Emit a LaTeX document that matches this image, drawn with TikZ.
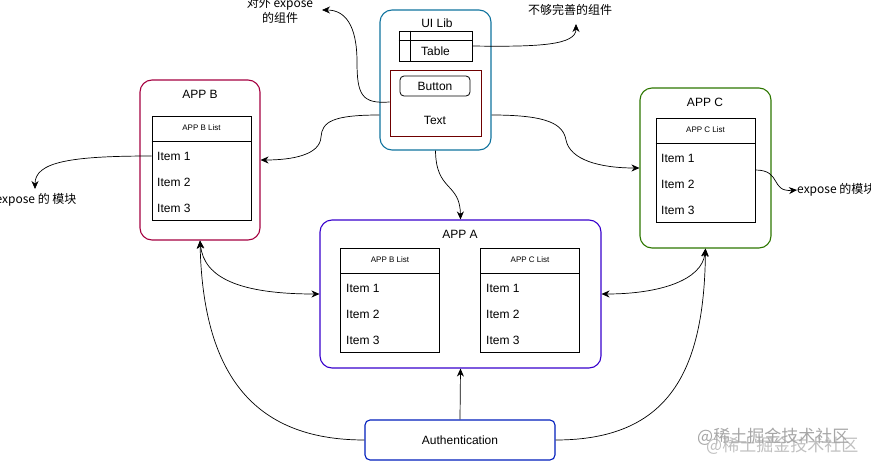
\documentclass[tikz,border=0pt]{standalone}
\usepackage{fontspec}
\setmainfont{Liberation Sans}
\newfontfamily\cjk{Noto Sans CJK SC}
\usetikzlibrary{arrows.meta}
\definecolor{uiblue}{HTML}{10739E}
\definecolor{bmag}{HTML}{A50040}
\definecolor{cgreen}{HTML}{2D7600}
\definecolor{apurple}{HTML}{3700CC}
\definecolor{authblue}{HTML}{001DBC}
\definecolor{maroon}{HTML}{6F0000}
\begin{document}
\begin{tikzpicture}[x=1pt,y=-1pt,
  font=\fontsize{12}{14}\selectfont,
  box/.style={draw, rounded corners=12pt, line width=1.1pt, inner sep=0pt},
  lst/.style={draw, line width=0.8pt, minimum width=99pt, minimum height=104pt, inner sep=0pt},
  hdr/.style={font=\fontsize{8}{9}\selectfont, inner sep=0pt},
  itm/.style={anchor=west, inner sep=0pt},
  lbl/.style={inner sep=0pt},
  arr/.style={-{Stealth[length=8pt,width=7pt]}, line width=0.7pt},
  darr/.style={{Stealth[length=8pt,width=7pt]}-{Stealth[length=8pt,width=7pt]}, line width=0.7pt}]
\useasboundingbox (0,0) rectangle (871,461);

% ---------- UI Lib ----------
\node[box, draw=uiblue, minimum width=111pt, minimum height=140pt] (ui) at (435.5,80) {};
\node[lbl] (uititle) at (437,23) {UI Lib};
\node[draw, line width=0.8pt, minimum width=73pt, minimum height=30pt, inner sep=0pt] (tbl) at (435.5,46) {};
\draw[line width=0.8pt] ([yshift=-10pt]tbl.north west) -- ([yshift=-10pt]tbl.north east);
\draw[line width=0.8pt] ([xshift=12pt]tbl.north west) -- ([xshift=12pt]tbl.south west);
\node[lbl] (tbltxt) at (435.5,51) {Table};
\node[draw=maroon, line width=0.9pt, minimum width=91pt, minimum height=66pt, inner sep=0pt] (cont) at (435.5,103) {};
\node[draw, rounded corners=4pt, line width=0.8pt, minimum width=70pt, minimum height=20pt, inner sep=0pt] (btn) at (435,86) {Button};
\node[lbl] (txt) at (435,120) {Text};

% labels near UI Lib
\node[lbl, align=center, font=\cjk\fontsize{12}{15}\selectfont] (expL) at (280,10) {对外 expose\\的组件};
\coordinate (expTip) at (322,10);
\node[lbl, font=\cjk\fontsize{12}{14}\selectfont] (weak) at (570,10) {不够完善的组件};
\coordinate (weakTip) at (576,24);

\draw[arr] ([yshift=1pt]cont.west) .. controls (362,104) and (357,95) .. (357,62) .. controls (357,25) and (345,10) .. (expTip);
\draw[arr] (tbl.east) .. controls (540,47) and (576,45) .. (weakTip);

% ---------- APP B ----------
\node[box, draw=bmag, minimum width=120pt, minimum height=160pt] (appB) at (200,160) {};
\node[lbl] (appBt) at (200,94) {APP B};
\node[lst] (listB) at (201.5,168.5) {};
\draw[line width=0.8pt] ([yshift=-25.5pt]listB.north west) -- ([yshift=-25.5pt]listB.north east);
\node[hdr] (listBh) at (201.5,128) {APP B List};
\node[itm] (b1) at (157,156) {Item 1};
\node[itm] (b2) at (157,182) {Item 2};
\node[itm] (b3) at (157,208) {Item 3};
\node[lbl, font=\cjk\fontsize{12}{14}\selectfont] (expB) at (36,200) {expose 的 模块};
\coordinate (expBTip) at (35,189);
\draw[arr] (b1.west -| listB.west) .. controls (70,156) and (35,162) .. (expBTip);

% ---------- APP C ----------
\node[box, draw=cgreen, minimum width=131pt, minimum height=160pt] (appC) at (705.5,168) {};
\node[lbl] (appCt) at (705,102) {APP C};
\node[lst] (listC) at (705.5,170) {};
\draw[line width=0.8pt] ([yshift=-26pt]listC.north west) -- ([yshift=-26pt]listC.north east);
\node[hdr] (listCh) at (705.5,130) {APP C List};
\node[itm] (c1) at (661,158) {Item 1};
\node[itm] (c2) at (661,184) {Item 2};
\node[itm] (c3) at (661,210) {Item 3};
\node[lbl, anchor=west, font=\cjk\fontsize{12}{14}\selectfont] (expC) at (797,190) {expose 的模块};
\draw[arr] (listC.east) .. controls (782,170) and (770,192) .. (expC.west);

% ---------- APP A ----------
\node[box, draw=apurple, minimum width=281pt, minimum height=148pt] (appA) at (460.5,294) {};
\node[lbl] (appAt) at (460,234) {APP A};
\node[lst] (listAB) at (390,300) {};
\draw[line width=0.8pt] ([yshift=-26pt]listAB.north west) -- ([yshift=-26pt]listAB.north east);
\node[hdr] (listABh) at (390,260) {APP B List};
\node[itm] (ab1) at (346,288) {Item 1};
\node[itm] (ab2) at (346,314) {Item 2};
\node[itm] (ab3) at (346,340) {Item 3};
\node[lst] (listAC) at (530,300) {};
\draw[line width=0.8pt] ([yshift=-26pt]listAC.north west) -- ([yshift=-26pt]listAC.north east);
\node[hdr] (listACh) at (530,260) {APP C List};
\node[itm] (ac1) at (486,288) {Item 1};
\node[itm] (ac2) at (486,314) {Item 2};
\node[itm] (ac3) at (486,340) {Item 3};

% ---------- Authentication ----------
\node[draw=authblue, rounded corners=5pt, line width=1.1pt, minimum width=190pt, minimum height=40pt, inner sep=0pt] (auth) at (460,440) {Authentication};

% ---------- connectors ----------
\draw[arr] ([yshift=-35pt]ui.west) .. controls (332,115) and (322,122) .. (321,137) .. controls (320,155) and (292,160) .. (appB.east);
\draw[arr] ([yshift=-35pt]ui.east) .. controls (548,115) and (563,124) .. (566,140) .. controls (570,160) and (600,168) .. (appC.west);
\draw[arr] (ui.south) .. controls (436,192) and (460,182) .. (appA.north);
\draw[darr] (appB.south) .. controls (204,278) and (240,294) .. (appA.west);
\draw[darr] (appC.south) .. controls (702,280) and (660,294) .. (appA.east);
\draw[arr] (auth.north) -- (appA.south);
\draw[arr] (auth.west) .. controls (250,440) and (203,370) .. (appB.south);
\draw[arr] (auth.east) .. controls (670,440) and (704,370) .. (appC.south);

% ---------- watermark ----------
\node[lbl, anchor=west, text=black!25, font=\cjk\fontsize{17}{19}\selectfont] (wm2) at (706,446) {@稀土掘金技术社区};
\node[lbl, anchor=west, text=black!35, font=\cjk\fontsize{17}{19}\selectfont] (wm) at (697,437) {@稀土掘金技术社区};
\end{tikzpicture}
\end{document}
